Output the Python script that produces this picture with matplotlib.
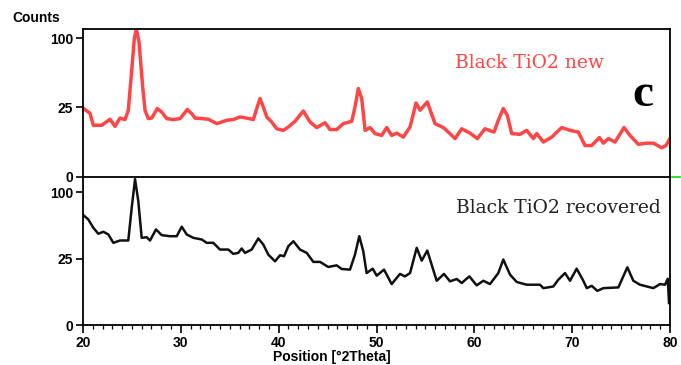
import numpy as np
import matplotlib
matplotlib.use('Agg')
import matplotlib.pyplot as plt

# XRD patterns (position in deg 2-theta, counts)
new_x = [20.0, 20.2, 20.72, 21.05, 21.91, 22.76, 23.27, 23.78, 24.29, 24.63, 24.98,
         25.25, 25.45, 25.72, 26.10, 26.34, 26.67, 27.02, 27.59, 28.04, 28.56, 29.23,
         29.92, 30.66, 31.11, 31.45, 32.13, 32.81, 33.67, 34.69, 35.36, 36.05, 36.73,
         37.41, 37.76, 38.09, 38.43, 38.78, 39.29, 39.80, 40.47, 40.99, 41.67, 42.52,
         43.20, 43.89, 44.74, 45.25, 45.93, 46.61, 47.47, 47.80, 48.14, 48.49, 48.83,
         49.34, 49.85, 50.53, 51.04, 51.55, 52.07, 52.74, 53.43, 54.04, 54.45, 55.19,
         55.98, 56.83, 57.51, 58.03, 58.71, 59.56, 60.30, 61.09, 62.01, 62.45, 62.96,
         63.37, 63.82, 64.67, 65.35, 66.03, 66.38, 67.05, 67.91, 68.93, 69.78, 70.63,
         71.31, 72.00, 72.78, 73.19, 73.70, 74.38, 75.30, 75.91, 76.76, 77.62, 78.30,
         79.15, 79.59, 79.93]
new_counts = [24.5, 23.4, 20.8, 13.7, 13.7, 17.1, 13.1, 17.8, 16.9, 22.9, 59.0,
              100.0, 113.0, 95.0, 41.9, 22.9, 17.5, 17.8, 24.1, 21.7, 17.5, 16.9,
              17.5, 23.4, 20.6, 17.8, 17.5, 17.1, 14.6, 16.5, 16.9, 18.5, 17.8,
              16.9, 24.1, 31.7, 25.2, 18.5, 15.5, 11.9, 11.1, 12.8, 15.9, 22.4,
              15.5, 12.5, 15.1, 11.5, 11.5, 14.6, 15.9, 25.2, 40.4, 31.7, 11.1,
              12.5, 9.6, 8.8, 12.5, 8.8, 9.8, 8.1, 12.8, 28.2, 22.9, 29.0,
              14.6, 12.5, 9.6, 7.5, 11.9, 9.8, 7.5, 11.9, 10.3, 16.5, 24.1,
              19.5, 9.6, 9.3, 11.1, 7.5, 9.6, 6.2, 8.1, 12.5, 11.1, 10.3,
              5.0, 5.0, 7.9, 5.8, 7.5, 6.2, 12.5, 8.8, 5.4, 5.8, 5.8,
              4.3, 5.0, 7.1]

rec_x = [20.03, 20.54, 21.05, 21.56, 22.08, 22.59, 23.10, 23.78, 24.63, 24.98, 25.32,
         25.65, 26.00, 26.51, 26.85, 27.46, 28.04, 28.89, 29.58, 30.09, 30.60, 31.27,
         32.13, 32.64, 33.32, 34.00, 34.85, 35.36, 35.87, 36.22, 36.56, 37.24, 37.92,
         38.43, 38.94, 39.63, 40.14, 40.55, 40.99, 41.50, 42.18, 42.87, 43.54, 44.23,
         45.07, 45.93, 46.44, 47.29, 47.80, 48.24, 48.65, 48.99, 49.61, 50.02, 50.77,
         51.55, 52.40, 52.91, 53.43, 54.11, 54.62, 55.19, 56.15, 56.90, 57.51, 58.20,
         58.71, 59.49, 60.24, 60.92, 61.60, 62.45, 62.96, 63.65, 64.33, 65.35, 66.71,
         67.05, 68.07, 68.58, 69.27, 69.78, 70.46, 71.14, 71.49, 72.00, 72.57, 73.19,
         74.72, 75.64, 76.25, 76.93, 78.30, 78.98, 79.49, 79.77, 79.90]
rec_counts = [68.6, 63.3, 53.8, 47.3, 49.4, 46.6, 38.4, 40.6, 40.6, 78.2, 120.6,
              87.3, 43.2, 43.8, 40.6, 51.9, 45.9, 44.8, 44.8, 54.9, 46.6, 43.2,
              41.6, 38.4, 38.4, 32.4, 32.4, 28.8, 29.6, 33.3, 29.6, 32.4, 42.6,
              36.8, 28.2, 23.1, 27.7, 26.9, 35.3, 39.9, 32.4, 29.6, 22.7, 22.7,
              19.2, 20.3, 17.9, 17.5, 28.2, 44.8, 30.9, 15.4, 18.1, 13.9, 17.5,
              9.6, 14.9, 13.5, 15.4, 33.9, 23.6, 31.5, 11.2, 14.9, 10.9, 12.1,
              10.1, 13.5, 9.0, 11.2, 9.6, 15.4, 24.4, 14.5, 10.6, 9.3, 9.3,
              7.8, 8.5, 11.7, 15.4, 11.2, 18.1, 11.2, 7.8, 8.8, 6.7, 7.8,
              8.1, 19.0, 11.2, 9.3, 7.8, 9.6, 9.3, 12.2, 2.8]

y_ticks = [0, 25, 100]
x_ticks = [20, 30, 40, 50, 60, 70, 80]

RED = '#ff4646'
LABEL_FONT = dict(fontfamily='Liberation Sans', fontweight='bold', fontsize=10)


def sqrt_fwd(v):
    return np.sqrt(np.clip(v, 0, None))


def sqrt_inv(v):
    return np.square(v)


fig = plt.figure(figsize=(6.81, 3.65), dpi=100)
ax_top = fig.add_axes([83 / 681, 1 - 176.5 / 365, 587 / 681, 147.5 / 365])
ax_bot = fig.add_axes([83 / 681, 1 - 325.3 / 365, 587 / 681, 148.8 / 365])

ax_top.plot(new_x, new_counts, color=RED, lw=2.5, solid_joinstyle='round')
ax_bot.plot(rec_x, rec_counts, color='#111111', lw=1.8, solid_joinstyle='round')

for ax, top in [(ax_top, 113.5), (ax_bot, 125.0)]:
    ax.set_yscale('function', functions=(sqrt_fwd, sqrt_inv))
    ax.set_ylim(0, top)
    ax.set_xlim(20, 80)
    ax.set_yticks(y_ticks)
    ax.set_yticklabels([str(t) for t in y_ticks], **LABEL_FONT)
    ax.yaxis.set_minor_locator(plt.NullLocator())
    ax.tick_params(axis='y', direction='out', length=5, width=1.2, pad=2)
    for sp in ax.spines.values():
        sp.set_linewidth(1.3)
        sp.set_color('black')

ax_top.tick_params(axis='x', bottom=False, labelbottom=False)
ax_top.spines['bottom'].set_visible(False)

ax_bot.set_xticks(x_ticks)
ax_bot.set_xticklabels([str(t) for t in x_ticks], **LABEL_FONT)
ax_bot.set_xticks(np.arange(20, 81, 1), minor=True)
ax_bot.tick_params(axis='x', which='major', direction='out', length=6, width=1.2, pad=2)
ax_bot.tick_params(axis='x', which='minor', direction='out', length=3, width=0.9)

# small green marker at the right end of the zero line
ax_top.plot([1.004, 1.017], [0, 0], transform=ax_top.transAxes, color='#22dd22',
            lw=1.3, clip_on=False)

ax_top.text(0.76, 0.77, 'Black TiO2 new', transform=ax_top.transAxes, ha='center',
            va='center', color=RED, fontfamily='DejaVu Serif', fontsize=13.5)
ax_top.text(0.954, 0.55, 'c', transform=ax_top.transAxes, ha='center', va='center',
            color='black', fontfamily='Liberation Serif', fontweight='bold', fontsize=34)
ax_bot.text(0.985, 0.79, 'Black TiO2 recovered', transform=ax_bot.transAxes, ha='right',
            va='center', color='#222222', fontfamily='DejaVu Serif', fontsize=13.5)

fig.text(12 / 681, 1 - 18 / 365, 'Counts', ha='left', va='center', **LABEL_FONT)
fig.text(332 / 681, 1 - 357 / 365, 'Position [°2Theta]', ha='center', va='center',
         **LABEL_FONT)

fig.savefig('out.png', dpi=100)
